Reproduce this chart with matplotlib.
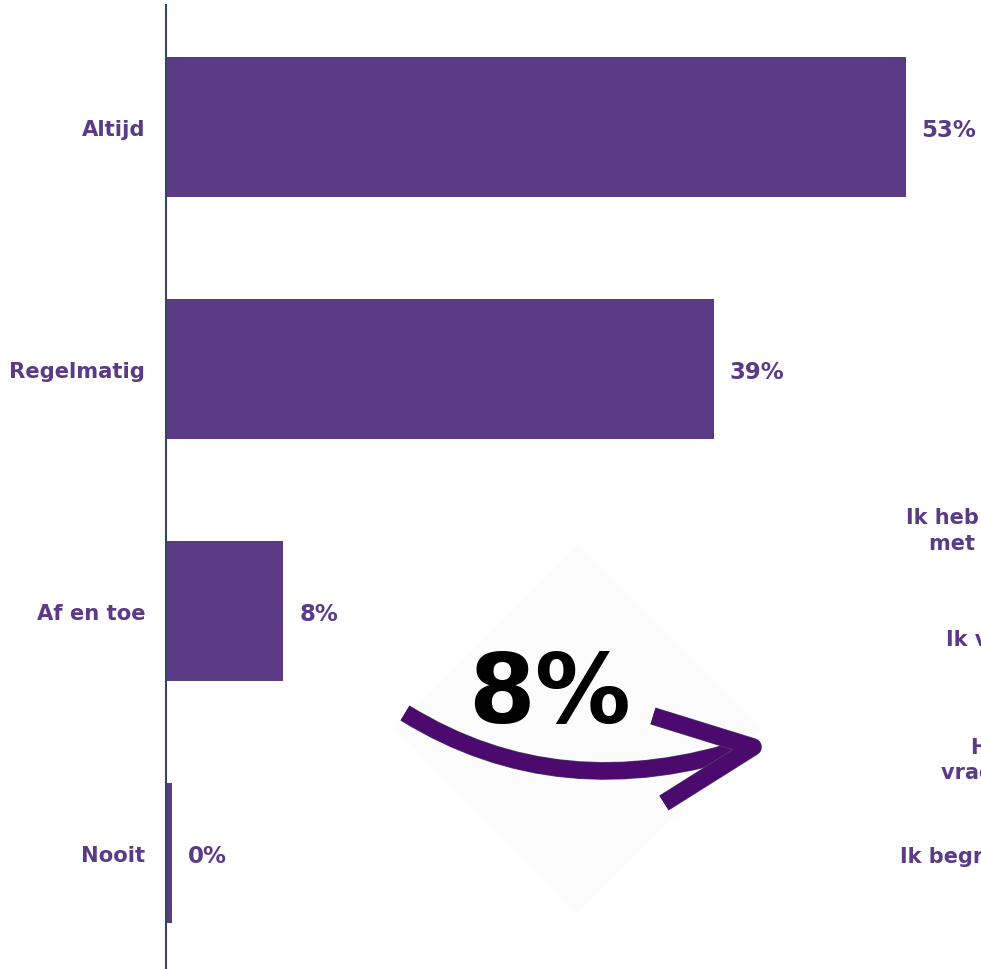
import matplotlib.pyplot as plt
import matplotlib.patheffects as pe
from matplotlib.patches import Polygon, PathPatch
from matplotlib.path import Path

# answers and their share of respondents (%)
categories = ["Altijd", "Regelmatig", "Af en toe", "Nooit"]
shares = [52.9, 39.2, 8.4, 0.4]

# reasons panel on the right (only partly in view)
reason_lines = ["Ik heb moeite", "met de taal", "Ik vind het lastig",
                "Het is niet nodig", "vragen te stellen", "Ik begrijp het wel"]
reason_x = [906, 929, 946, 971, 941, 900]
reason_y = [518, 544, 640, 748, 773, 857]

highlight = "8%"

purple = "#5b3a86"
dark_purple = "#4d0a6e"
W, H = 981, 970

fig = plt.figure(figsize=(W / 100, H / 100), dpi=100)
ax = fig.add_axes([166 / W, 0, 1 - 166 / W, 964 / H])

ypos = list(range(len(categories)))
ax.barh(ypos, shares, height=0.578, color=purple)
# value labels just right of each bar
for y, v in zip(ypos, shares):
    ax.annotate(f"{v:.0f}%", (v, y), xytext=(11.5, 0),
                textcoords="offset points", ha="left", va="center_baseline",
                color=purple, fontsize=16.5, fontweight="bold")

ax.set_yticks(ypos, categories)
ax.set_ylim(3.479, -0.503)
ax.set_xlim(0, 815 / 13.98)
ax.tick_params(axis="y", length=0, pad=15, labelsize=15.2, labelcolor=purple)
for lab in ax.get_yticklabels():
    lab.set_fontweight("bold")
ax.set_xticks([])
for side in ["top", "right", "bottom"]:
    ax.spines[side].set_visible(False)
ax.spines["left"].set_color("#34495e")
ax.spines["left"].set_linewidth(1.5)
ax.patch.set_alpha(0)

# light diamond behind the callout
def fx(x):
    return x / W

def fy(y):
    return 1 - y / H

diamond = Polygon([(fx(578), fy(545)), (fx(762), fy(730)), (fx(578), fy(915)),
                   (fx(395), fy(730))], closed=True, transform=fig.transFigure,
                  facecolor="#fcfcfc", edgecolor="none", zorder=0)
fig.patches.append(diamond)

fig.text(fx(550), fy(696), highlight, fontsize=69, fontweight="bold",
         color="black", ha="center", va="center")

# hand-drawn style curved arrow
stroke = [pe.Stroke(linewidth=12.8, foreground="#4a5a6a"), pe.Normal()]
curve = Path([(fx(405), fy(714)), (fx(560), fy(810)), (fx(750), fy(747))],
             [Path.MOVETO, Path.CURVE3, Path.CURVE3])
head = Path([(fx(653), fy(717)), (fx(753), fy(748)), (fx(664), fy(804))],
            [Path.MOVETO, Path.LINETO, Path.LINETO])
for p in (curve, head):
    patch = PathPatch(p, transform=fig.transFigure, facecolor="none",
                      edgecolor=dark_purple, linewidth=12, capstyle="butt",
                      joinstyle="round", path_effects=stroke)
    fig.patches.append(patch)

for txt, x, y in zip(reason_lines, reason_x, reason_y):
    fig.text(fx(x), fy(y), txt, fontsize=15, fontweight="bold",
             color=purple, ha="left", va="center")

fig.savefig("out.png", dpi=100)
